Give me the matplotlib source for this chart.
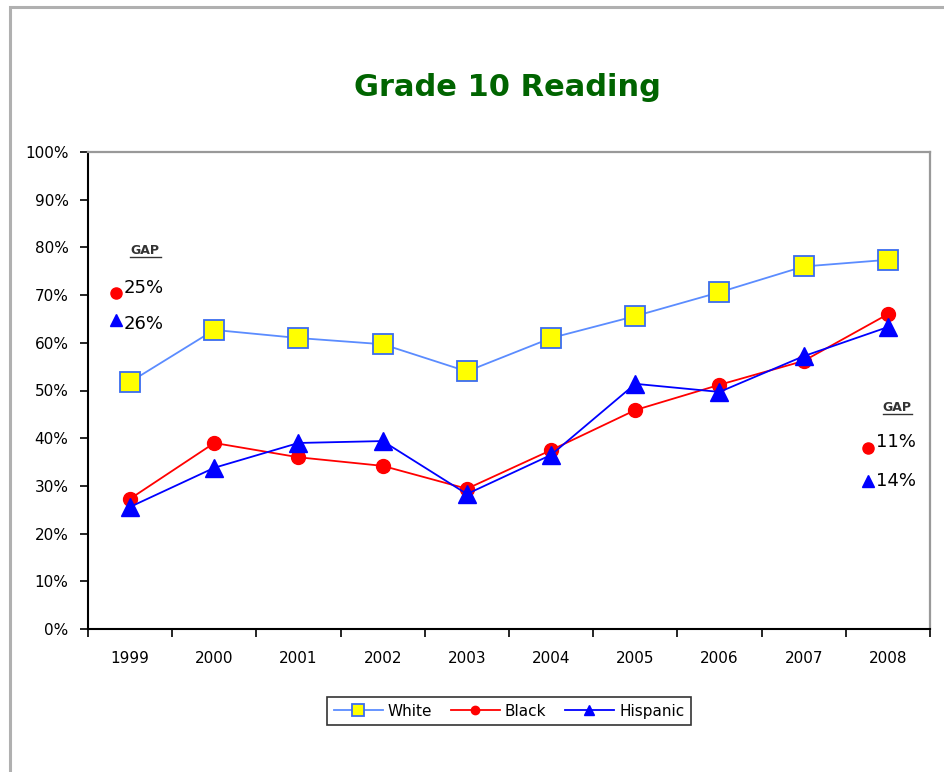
import numpy as np
import matplotlib.pyplot as plt
from matplotlib.patches import Rectangle

plt.rcParams['font.family'] = ['DejaVu Sans']

# data
years = ['1999', '2000', '2001', '2002', '2003', '2004', '2005', '2006', '2007', '2008']
white = [51.8, 62.7, 61.0, 59.7, 54.0, 61.0, 65.6, 70.6, 76.0, 77.4]
black = [27.3, 39.0, 36.0, 34.2, 29.4, 37.5, 45.9, 51.2, 56.2, 66.0]
hispanic = [25.6, 33.8, 39.0, 39.4, 28.3, 36.5, 51.4, 49.7, 57.2, 63.3]

gap_labels_1999 = ['25%', '26%']
gap_labels_2008 = ['11%', '14%']
gap_marks_1999 = [70.5, 64.8]
gap_marks_2008 = [38.0, 31.0]

fig = plt.figure(figsize=(9.45, 7.72), dpi=100)
# outer chart border (runs off the right and bottom edges)
fig.patches.append(Rectangle((10/945, -0.05), 1.0, 1 - 7/772 + 0.05, transform=fig.transFigure,
                             fill=False, edgecolor='#b0b0b0', lw=2.2))

ax = fig.add_axes([88/945, 1 - 629/772, 842/945, 477/772])
x = np.arange(len(years))

ax.plot(x, white, color='#5b8cff', lw=1.3, marker='s', ms=14, mfc='#ffff00',
        mec='#3a6cf0', mew=1.3, label='White', zorder=3)
ax.plot(x, black, color='#ff0000', lw=1.3, marker='o', ms=10, mfc='#ff0000',
        mec='#ff0000', label='Black', zorder=4)
ax.plot(x, hispanic, color='#0000ff', lw=1.3, marker='^', ms=13, mfc='#0000ff',
        mec='#0000ff', label='Hispanic', zorder=5)

ax.set_xlim(-0.5, 9.5)
ax.set_ylim(0, 100)
ax.set_yticks(np.arange(0, 101, 10))
ax.set_yticklabels([f'{v}%' for v in range(0, 101, 10)], fontsize=11)
ax.set_xticks(np.arange(-0.5, 10, 1))
ax.set_xticklabels([])
ax.set_xticks(x, minor=True)
ax.set_xticklabels(years, minor=True, fontsize=11)
ax.tick_params(axis='x', which='minor', length=0, pad=16)
ax.tick_params(axis='x', which='major', length=6, width=1.2, direction='out')
ax.tick_params(axis='y', length=6, width=1.2, direction='out', pad=8)

for s in ['left', 'bottom']:
    ax.spines[s].set_linewidth(1.5)
for s in ['top', 'right']:
    ax.spines[s].set_color('#999999')
    ax.spines[s].set_linewidth(1.6)

# gap annotations
ax.text(0.177, 79.4, 'GAP', fontsize=9, ha='center', va='center', fontweight='bold',
        color='#333333')
ax.plot([0.0, 0.367], [78.0, 78.0], color='#333333', lw=1)
ax.plot(-0.167, gap_marks_1999[0], 'o', color='#ff0000', ms=8, clip_on=False)
ax.plot(-0.167, gap_marks_1999[1], '^', color='#0000ff', ms=8, clip_on=False)
ax.text(-0.08, 71.5, gap_labels_1999[0], fontsize=13, va='center')
ax.text(-0.08, 64.0, gap_labels_1999[1], fontsize=13, va='center')

ax.text(9.108, 46.5, 'GAP', fontsize=9, ha='center', va='center', fontweight='bold',
        color='#333333')
ax.plot([8.94, 9.29], [45.1, 45.1], color='#333333', lw=1)
ax.plot(8.764, gap_marks_2008[0], 'o', color='#ff0000', ms=8, clip_on=False)
ax.plot(8.764, gap_marks_2008[1], '^', color='#0000ff', ms=8, clip_on=False)
ax.text(8.859, 39.3, gap_labels_2008[0], fontsize=13, va='center')
ax.text(8.859, 31.0, gap_labels_2008[1], fontsize=13, va='center')

fig.text(507/945, 1 - 88/772, 'Grade 10 Reading', fontsize=22, fontweight='bold',
         color='#006400', ha='center', va='center')

leg = ax.legend(loc='center', bbox_to_anchor=(0.5, -0.172), ncol=3, fontsize=11,
                frameon=True, fancybox=False, edgecolor='black', handlelength=3.2,
                columnspacing=1.2, handletextpad=0.35, markerscale=0.6, borderpad=0.45)
leg.get_frame().set_linewidth(1.2)

fig.savefig('out.png', dpi=100)
